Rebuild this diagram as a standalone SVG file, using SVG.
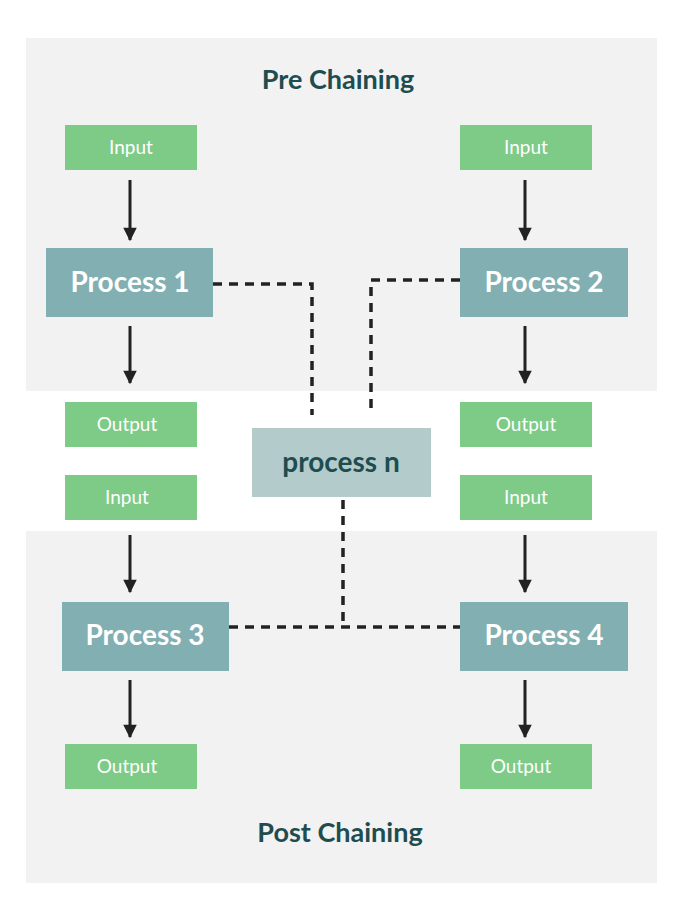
<svg xmlns="http://www.w3.org/2000/svg" width="684" height="918" viewBox="0 0 684 918">
<style>
.panel{fill:#f2f2f2}
.io{fill:#7dcb86}
.proc{fill:#82afb1}
.iot{font-family:"Lato","Liberation Sans",sans-serif;font-size:19px;fill:#fff;text-anchor:middle}
.pt{font-family:"Lato","Liberation Sans",sans-serif;font-size:28px;font-weight:bold;fill:#fff;text-anchor:middle}
.title{font-family:"Lato","Liberation Sans",sans-serif;font-size:27px;font-weight:bold;fill:#1f4d4f;text-anchor:middle}
.arr{stroke:#222;stroke-width:3;fill:none;marker-end:url(#ah)}
.dash{stroke:#222;stroke-width:3.5;fill:none;stroke-dasharray:9 7}
</style>
<defs><marker id="ah" viewBox="0 0 10 10" refX="9" refY="5" markerWidth="5" markerHeight="4.5" orient="auto" markerUnits="strokeWidth"><path d="M0,0L10,5L0,10z" fill="#222"/></marker></defs>
<rect width="684" height="918" fill="#fff"/>
<rect class="panel" x="26" y="38" width="631" height="353"/>
<rect class="panel" x="26" y="531" width="631" height="352"/>
<text class="title" x="338" y="89">Pre Chaining</text>
<text class="title" x="340" y="842">Post Chaining</text>
<g id="connectors">
<path class="dash" d="M213,284H312V415"/>
<path class="dash" d="M460,280H371V415"/>
<path class="dash" d="M343,500V627M229,627H460"/>
<path class="arr" d="M130,180V240"/><path class="arr" d="M525,180V240"/>
<path class="arr" d="M130,326V383"/><path class="arr" d="M525,326V383"/>
<path class="arr" d="M130,535V592"/><path class="arr" d="M525,535V592"/>
<path class="arr" d="M130,680V737"/><path class="arr" d="M525,680V737"/>
</g>
<g id="in1"><rect class="io" x="65" y="125" width="132" height="45"/><text class="iot" x="131" y="154">Input</text></g>
<g id="in2"><rect class="io" x="460" y="125" width="132" height="45"/><text class="iot" x="526" y="154">Input</text></g>
<g id="p1"><rect class="proc" x="46" y="248" width="167" height="69"/><text class="pt" x="130" y="292">Process 1</text></g>
<g id="p2"><rect class="proc" x="460" y="248" width="168" height="69"/><text class="pt" x="544" y="292">Process 2</text></g>
<g id="out1"><rect class="io" x="65" y="402" width="132" height="45"/><text class="iot" x="127" y="431">Output</text></g>
<g id="out2"><rect class="io" x="460" y="402" width="132" height="45"/><text class="iot" x="526" y="431">Output</text></g>
<g id="pn"><rect fill="#b3cccb" x="252" y="428" width="179" height="69"/><text class="pt" x="341" y="472" style="fill:#1f4d4f">process n</text></g>
<g id="in3"><rect class="io" x="65" y="475" width="132" height="45"/><text class="iot" x="127" y="504">Input</text></g>
<g id="in4"><rect class="io" x="460" y="475" width="132" height="45"/><text class="iot" x="526" y="504">Input</text></g>
<g id="p3"><rect class="proc" x="62" y="602" width="167" height="69"/><text class="pt" x="145" y="645">Process 3</text></g>
<g id="p4"><rect class="proc" x="460" y="602" width="168" height="69"/><text class="pt" x="544" y="645">Process 4</text></g>
<g id="out3"><rect class="io" x="65" y="744" width="132" height="45"/><text class="iot" x="127" y="773">Output</text></g>
<g id="out4"><rect class="io" x="460" y="744" width="132" height="45"/><text class="iot" x="521" y="773">Output</text></g>
</svg>
